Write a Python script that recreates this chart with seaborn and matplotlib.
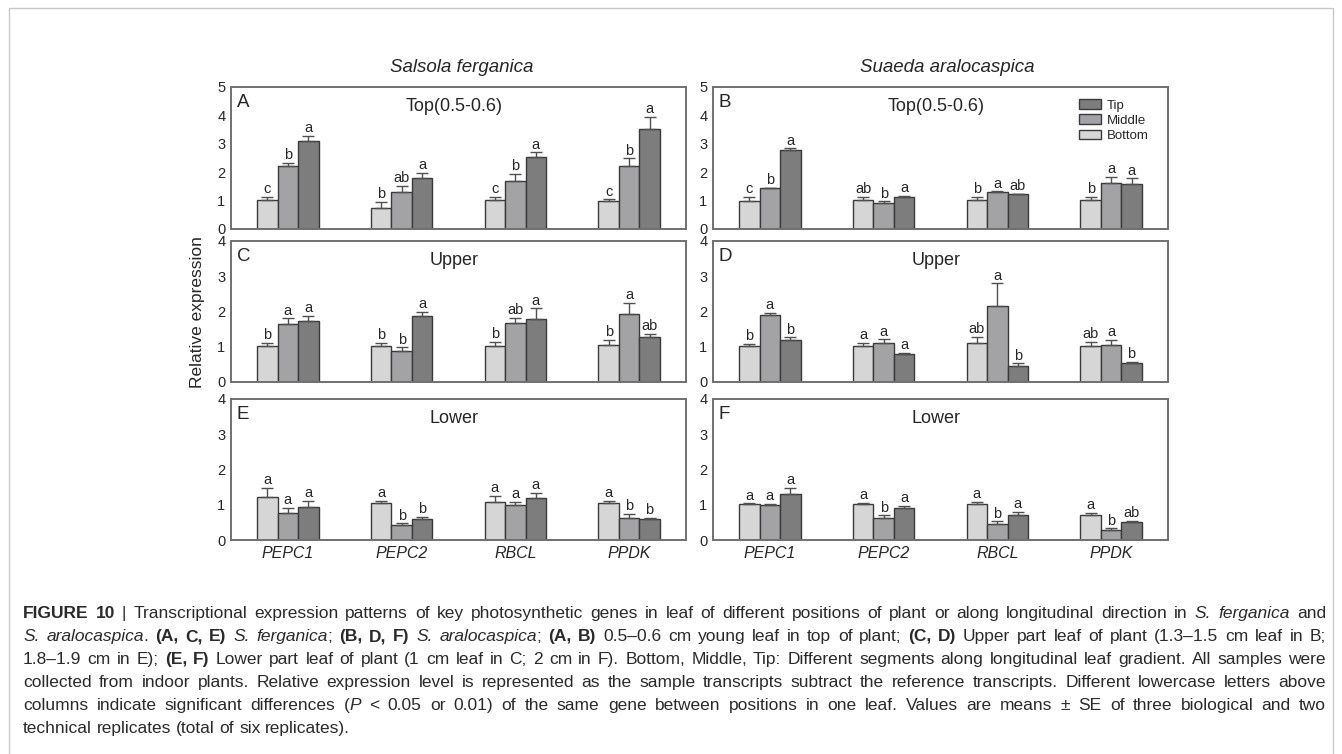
import numpy as np
import pandas as pd
import matplotlib.pyplot as plt
import seaborn as sns
from matplotlib.patches import Patch
from matplotlib.lines import Line2D

genes = ["PEPC1", "PEPC2", "RBCL", "PPDK"]
positions = ["Bottom", "Middle", "Tip"]

# rows: Bottom, Middle, Tip / cols: PEPC1, PEPC2, RBCL, PPDK
a_mean = [[1.02, 0.73, 1.02, 1.00], [2.23, 1.29, 1.70, 2.23], [3.09, 1.81, 2.54, 3.52]]
a_se = [[0.12, 0.23, 0.11, 0.04], [0.10, 0.22, 0.24, 0.26], [0.20, 0.17, 0.16, 0.43]]
a_let = [["c", "b", "c", "c"], ["b", "ab", "b", "b"], ["a", "a", "a", "a"]]

b_mean = [[1.00, 1.02, 1.01, 1.02], [1.43, 0.92, 1.29, 1.63], [2.78, 1.14, 1.24, 1.57]]
b_se = [[0.12, 0.10, 0.11, 0.10], [0.02, 0.05, 0.04, 0.21], [0.06, 0.02, 0.01, 0.21]]
b_let = [["c", "ab", "b", "b"], ["b", "b", "a", "a"], ["a", "a", "ab", "a"]]

c_mean = [[1.02, 1.02, 1.03, 1.05], [1.65, 0.88, 1.68, 1.92], [1.73, 1.87, 1.79, 1.28]]
c_se = [[0.10, 0.10, 0.11, 0.14], [0.16, 0.10, 0.14, 0.33], [0.14, 0.12, 0.30, 0.08]]
c_let = [["b", "b", "b", "b"], ["a", "b", "ab", "a"], ["a", "a", "a", "ab"]]

d_mean = [[1.02, 1.02, 1.10, 1.03], [1.90, 1.12, 2.16, 1.06], [1.19, 0.79, 0.46, 0.55]]
d_se = [[0.06, 0.10, 0.18, 0.11], [0.07, 0.09, 0.64, 0.13], [0.08, 0.04, 0.07, 0.03]]
d_let = [["b", "a", "ab", "ab"], ["a", "a", "a", "a"], ["b", "a", "b", "b"]]

e_mean = [[1.22, 1.04, 1.09, 1.04], [0.77, 0.42, 1.00, 0.63], [0.95, 0.59, 1.18, 0.59]]
e_se = [[0.25, 0.08, 0.16, 0.08], [0.15, 0.05, 0.09, 0.11], [0.17, 0.07, 0.16, 0.04]]
e_let = [["a", "a", "a", "a"], ["a", "b", "a", "b"], ["a", "b", "a", "b"]]

f_mean = [[1.01, 1.01, 1.01, 0.70], [0.99, 0.63, 0.45, 0.28], [1.30, 0.92, 0.71, 0.50]]
f_se = [[0.03, 0.04, 0.08, 0.07], [0.03, 0.07, 0.08, 0.05], [0.17, 0.05, 0.09, 0.05]]
f_let = [["a", "a", "a", "a"], ["a", "b", "b", "b"], ["a", "a", "a", "ab"]]

palette = {"Bottom": "#d6d6d6", "Middle": "#a2a2a7", "Tip": "#7d7d7d"}
edge = "#3a3a3a"
spine_col = "#707070"

sns.set_style("white")
plt.rcParams["font.family"] = ["Liberation Sans", "DejaVu Sans"]

W, H = 1342, 754
fig = plt.figure(figsize=(W / 100, H / 100), dpi=100)


def px_axes(x0, y0, x1, y1):
    return fig.add_axes([x0 / W, 1 - y1 / H, (x1 - x0) / W, (y1 - y0) / H])


def long_frame(means):
    rows = []
    for i, p in enumerate(positions):
        for j, g in enumerate(genes):
            rows.append({"gene": g, "position": p, "value": means[i][j]})
    return pd.DataFrame(rows)


panels = [
    ("A", a_mean, a_se, a_let, 5, "Top(0.5-0.6)", (231, 87, 686, 229), False),
    ("B", b_mean, b_se, b_let, 5, "Top(0.5-0.6)", (713, 87, 1168, 229), False),
    ("C", c_mean, c_se, c_let, 4, "Upper", (231, 241, 686, 382), False),
    ("D", d_mean, d_se, d_let, 4, "Upper", (713, 241, 1168, 382), False),
    ("E", e_mean, e_se, e_let, 4, "Lower", (231, 399, 686, 540), True),
    ("F", f_mean, f_se, f_let, 4, "Lower", (713, 399, 1168, 540), True),
]

for tag, means, ses, lets, ymax, sub, box, bottom in panels:
    ax = px_axes(*box)
    df = long_frame(means)
    sns.barplot(data=df, x="gene", y="value", hue="position", order=genes,
                hue_order=positions, palette=palette, width=0.54,
                edgecolor=edge, linewidth=1.0, errorbar=None, legend=False, ax=ax)
    bar_conts = list(ax.containers)
    # upper error bars + letters
    for i, cont in enumerate(bar_conts):
        for j, bar in enumerate(cont):
            x = bar.get_x() + bar.get_width() / 2
            h = bar.get_height()
            se = ses[i][j]
            ax.errorbar(x, h, yerr=[[0], [se]], fmt="none", ecolor="#505050",
                        elinewidth=1.0, capsize=4.5, capthick=1.0)
            ax.annotate(lets[i][j], (x, h + se), xytext=(0, 0.5),
                        textcoords="offset points", ha="center", va="bottom",
                        fontsize=10.5)
    ax.set_xlim(-0.5, 3.5)
    ax.set_ylim(0, ymax)
    ax.set_yticks(range(ymax + 1))
    ax.set_xlabel("")
    ax.set_ylabel("")
    for s in ax.spines.values():
        s.set_visible(True)
        s.set_color(spine_col)
        s.set_linewidth(1.4)
    ax.tick_params(axis="y", direction="out", length=3, width=1, color=spine_col,
                   labelsize=10.5, pad=1)
    ax.tick_params(axis="x", direction="in", length=3, width=1, color=spine_col,
                   labelsize=11.5, pad=4)
    ax.set_xticks(range(4))
    if bottom:
        ax.set_xticklabels(genes, fontstyle="italic")
    else:
        ax.set_xticklabels([])
    ax.annotate(tag, (0, 1), xycoords="axes fraction", xytext=(4, -5),
                textcoords="offset points", ha="left", va="top", fontsize=13.5)
    ax.annotate(sub, (0.5, 1), xycoords="axes fraction", xytext=(-3, -14),
                textcoords="offset points", ha="center", va="center", fontsize=13)
    if tag == "B":
        handles = [Patch(facecolor=palette[p], edgecolor=edge, label=p)
                   for p in ["Tip", "Middle", "Bottom"]]
        ax.legend(handles=handles, loc="upper right", bbox_to_anchor=(0.97, 0.95),
                  frameon=False, fontsize=9.5, handlelength=1.6, handleheight=0.75,
                  labelspacing=0.2, handletextpad=0.5, borderaxespad=0)

fig.text(462 / W, 1 - 67 / H, "Salsola ferganica", style="italic", fontsize=13.5,
         ha="center", va="center")
fig.text(947 / W, 1 - 67 / H, "Suaeda aralocaspica", style="italic", fontsize=13.5,
         ha="center", va="center")
fig.text(197 / W, 1 - 312 / H, "Relative expression", rotation=90, fontsize=12.5,
         ha="center", va="center")

# page frame: top, left, right
frame_x = [9 / W, 9 / W, (W - 9) / W, (W - 9) / W]
frame_y = [0, 1 - 8 / H, 1 - 8 / H, 0]
fig.add_artist(Line2D(frame_x, frame_y, transform=fig.transFigure,
                      color="#c8c8c8", linewidth=1))

# caption, justified word by word
cap_lines = [
    [("FIGURE 10", "b"), (" | Transcriptional expression patterns of key photosynthetic genes in leaf of different positions of plant or along longitudinal direction in ", "n"), ("S. ferganica", "i"), (" and", "n")],
    [("S. aralocaspica", "i"), (". ", "n"), ("(A, C, E)", "b"), (" ", "n"), ("S. ferganica", "i"), ("; ", "n"), ("(B, D, F)", "b"), (" ", "n"), ("S. aralocaspica", "i"), ("; ", "n"), ("(A, B)", "b"), (" 0.5–0.6 cm young leaf in top of plant; ", "n"), ("(C, D)", "b"), (" Upper part leaf of plant (1.3–1.5 cm leaf in B;", "n")],
    [("1.8–1.9 cm in E); ", "n"), ("(E, F)", "b"), (" Lower part leaf of plant (1 cm leaf in C; 2 cm in F). Bottom, Middle, Tip: Different segments along longitudinal leaf gradient. All samples were", "n")],
    [("collected from indoor plants. Relative expression level is represented as the sample transcripts subtract the reference transcripts. Different lowercase letters above", "n")],
    [("columns indicate significant differences (", "n"), ("P", "i"), (" < 0.05 or 0.01) of the same gene between positions in one leaf. Values are means ± SE of three biological and two", "n")],
    [("technical replicates (total of six replicates).", "n")],
]
styles = {"n": {}, "b": {"fontweight": "bold"}, "i": {"fontstyle": "italic"}}
cap_left, cap_right = 23, 1326
cap_base0, cap_dy = 618, 23
cap_size = 12.5

renderer = fig.canvas.get_renderer()
t1 = fig.text(0, 0, "a a", fontsize=cap_size)
t2 = fig.text(0, 0, "aa", fontsize=cap_size)
space = t1.get_window_extent(renderer=renderer).width - t2.get_window_extent(renderer=renderer).width
t1.remove()
t2.remove()

for k, segs in enumerate(cap_lines):
    words = [[]]
    for txt, st in segs:
        parts = txt.split(" ")
        for m, p in enumerate(parts):
            if m > 0:
                words.append([])
            if p:
                words[-1].append((p, st))
    words = [w for w in words if w]
    y = 1 - (cap_base0 + k * cap_dy) / H
    arts = []
    widths = []
    for w in words:
        pieces = []
        wsum = 0
        for p, st in w:
            t = fig.text(0, y, p, fontsize=cap_size, va="baseline", ha="left",
                         color="#2a2a2a", **styles[st])
            pw = t.get_window_extent(renderer=renderer).width
            pieces.append((t, pw))
            wsum += pw
        arts.append(pieces)
        widths.append(wsum)
    if k < len(cap_lines) - 1:
        gap = (cap_right - cap_left - sum(widths)) / (len(words) - 1)
    else:
        gap = space
    x = cap_left
    for pieces, wsum in zip(arts, widths):
        xx = x
        for t, pw in pieces:
            t.set_x(xx / W)
            xx += pw
        x += wsum + gap

fig.savefig("out.png", dpi=100)
